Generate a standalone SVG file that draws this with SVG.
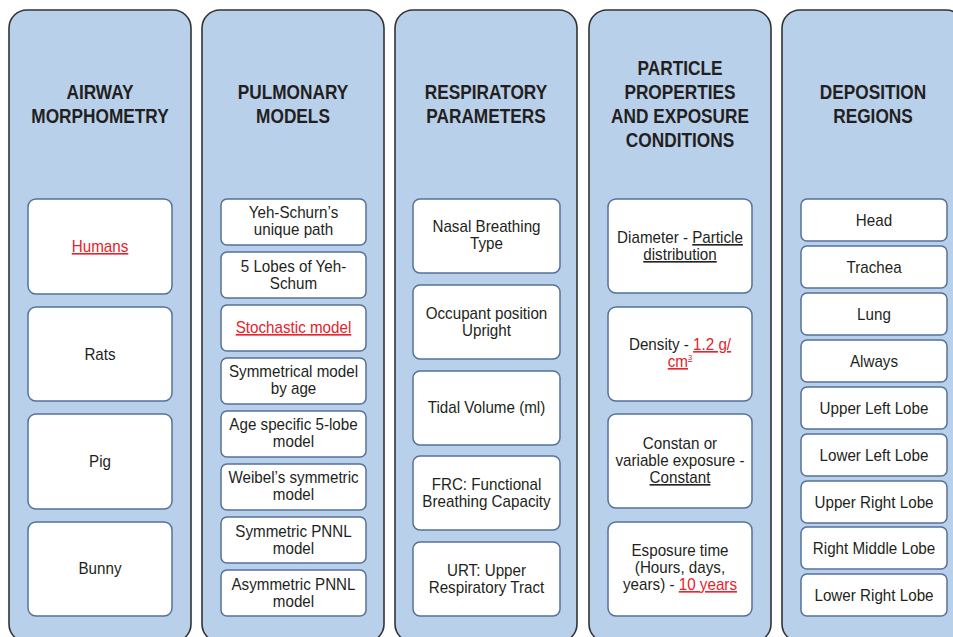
<svg xmlns="http://www.w3.org/2000/svg" width="953" height="637" viewBox="0 0 953 637">
  <style>
    .col { fill: #b9d0ea; stroke: #333333; stroke-width: 1.6; }
    .box { fill: #ffffff; stroke: #56709c; stroke-width: 1.5; }
    text { font-family: "Liberation Sans", Arial, sans-serif; fill: #231f20; text-anchor: middle; }
    .h { font-size: 19.5px; font-weight: bold; }
    .t { font-size: 16px; }
    .r { fill: #e8212b; text-decoration: underline; }
    .u { text-decoration: underline; }
  </style>
  <rect width="953" height="637" fill="#ffffff"/>

  <!-- Column backgrounds and headings -->
  <g id="col-airway">
    <rect class="col" x="9" y="10" width="182" height="632" rx="18"/>
    <g transform="translate(100 0) scale(0.885 1)">
      <text class="h" y="99">AIRWAY</text>
      <text class="h" y="123">MORPHOMETRY</text>
    </g>
  </g>
  <g id="col-pulmonary">
    <rect class="col" x="202" y="10" width="182" height="632" rx="18"/>
    <g transform="translate(293 0) scale(0.885 1)">
      <text class="h" y="99">PULMONARY</text>
      <text class="h" y="123">MODELS</text>
    </g>
  </g>
  <g id="col-respiratory">
    <rect class="col" x="395" y="10" width="182" height="632" rx="18"/>
    <g transform="translate(486 0) scale(0.885 1)">
      <text class="h" y="99">RESPIRATORY</text>
      <text class="h" y="123">PARAMETERS</text>
    </g>
  </g>
  <g id="col-particle">
    <rect class="col" x="589" y="10" width="182" height="632" rx="18"/>
    <g transform="translate(680 0) scale(0.885 1)">
      <text class="h" y="75">PARTICLE</text>
      <text class="h" y="99">PROPERTIES</text>
      <text class="h" y="123">AND EXPOSURE</text>
      <text class="h" y="147">CONDITIONS</text>
    </g>
  </g>
  <g id="col-deposition">
    <rect class="col" x="782" y="10" width="182" height="632" rx="18"/>
    <g transform="translate(873 0) scale(0.885 1)">
      <text class="h" y="99">DEPOSITION</text>
      <text class="h" y="123">REGIONS</text>
    </g>
  </g>

  <!-- Airway morphometry -->
  <g id="n-humans">
    <rect class="box" x="28" y="199" width="144" height="95" rx="8"/>
    <g transform="translate(100 0) scale(0.95 1)"><text class="t r" y="252">Humans</text></g>
  </g>
  <g id="n-rats">
    <rect class="box" x="28" y="307" width="144" height="94" rx="8"/>
    <g transform="translate(100 0) scale(0.95 1)"><text class="t" y="360">Rats</text></g>
  </g>
  <g id="n-pig">
    <rect class="box" x="28" y="414" width="144" height="95" rx="8"/>
    <g transform="translate(100 0) scale(0.95 1)"><text class="t" y="467">Pig</text></g>
  </g>
  <g id="n-bunny">
    <rect class="box" x="28" y="522" width="144" height="94" rx="8"/>
    <g transform="translate(100 0) scale(0.95 1)"><text class="t" y="574">Bunny</text></g>
  </g>

  <!-- Pulmonary models -->
  <g id="n-yeh-schurn">
    <rect class="box" x="221" y="199" width="145" height="46" rx="6"/>
    <g transform="translate(293.5 0) scale(0.95 1)"><text class="t" y="218">Yeh-Schurn’s</text><text class="t" y="235">unique path</text></g>
  </g>
  <g id="n-five-lobes">
    <rect class="box" x="221" y="252" width="145" height="46" rx="6"/>
    <g transform="translate(293.5 0) scale(0.95 1)"><text class="t" y="272">5 Lobes of Yeh-</text><text class="t" y="289">Schum</text></g>
  </g>
  <g id="n-stochastic">
    <rect class="box" x="221" y="305" width="145" height="46" rx="6"/>
    <g transform="translate(293.5 0) scale(0.95 1)"><text class="t r" y="333">Stochastic  model</text></g>
  </g>
  <g id="n-symmetrical-age">
    <rect class="box" x="221" y="358" width="145" height="46" rx="6"/>
    <g transform="translate(293.5 0) scale(0.95 1)"><text class="t" y="377">Symmetrical model</text><text class="t" y="394">by age</text></g>
  </g>
  <g id="n-age-specific">
    <rect class="box" x="221" y="411" width="145" height="46" rx="6"/>
    <g transform="translate(293.5 0) scale(0.95 1)"><text class="t" y="430">Age specific 5-lobe</text><text class="t" y="447">model</text></g>
  </g>
  <g id="n-weibel">
    <rect class="box" x="221" y="464" width="145" height="46" rx="6"/>
    <g transform="translate(293.5 0) scale(0.95 1)"><text class="t" y="483">Weibel’s symmetric</text><text class="t" y="500">model</text></g>
  </g>
  <g id="n-sym-pnnl">
    <rect class="box" x="221" y="517" width="145" height="46" rx="6"/>
    <g transform="translate(293.5 0) scale(0.95 1)"><text class="t" y="537">Symmetric PNNL</text><text class="t" y="554">model</text></g>
  </g>
  <g id="n-asym-pnnl">
    <rect class="box" x="221" y="570" width="145" height="46" rx="6"/>
    <g transform="translate(293.5 0) scale(0.95 1)"><text class="t" y="590">Asymmetric PNNL</text><text class="t" y="607">model</text></g>
  </g>

  <!-- Respiratory parameters -->
  <g id="n-nasal">
    <rect class="box" x="413" y="199" width="147" height="74" rx="7"/>
    <g transform="translate(486.5 0) scale(0.95 1)"><text class="t" y="232">Nasal Breathing</text><text class="t" y="249">Type</text></g>
  </g>
  <g id="n-occupant">
    <rect class="box" x="413" y="285" width="147" height="74" rx="7"/>
    <g transform="translate(486.5 0) scale(0.95 1)"><text class="t" y="319">Occupant position</text><text class="t" y="336">Upright</text></g>
  </g>
  <g id="n-tidal">
    <rect class="box" x="413" y="371" width="147" height="74" rx="7"/>
    <g transform="translate(486.5 0) scale(0.95 1)"><text class="t" y="413">Tidal Volume (ml)</text></g>
  </g>
  <g id="n-frc">
    <rect class="box" x="413" y="456" width="147" height="74" rx="7"/>
    <g transform="translate(486.5 0) scale(0.95 1)"><text class="t" y="490">FRC: Functional</text><text class="t" y="507">Breathing Capacity</text></g>
  </g>
  <g id="n-urt">
    <rect class="box" x="413" y="542" width="147" height="74" rx="7"/>
    <g transform="translate(486.5 0) scale(0.95 1)"><text class="t" y="576">URT: Upper</text><text class="t" y="593">Respiratory Tract</text></g>
  </g>

  <!-- Particle properties and exposure conditions -->
  <g id="n-diameter">
    <rect class="box" x="608" y="199" width="144" height="94" rx="8"/>
    <g transform="translate(680 0) scale(0.95 1)"><text class="t" y="243">Diameter - <tspan class="u">Particle</tspan></text><text class="t u" y="260">distribution</text></g>
  </g>
  <g id="n-density">
    <rect class="box" x="608" y="307" width="144" height="94" rx="8"/>
    <g transform="translate(680 0) scale(0.95 1)"><text class="t" y="350">Density - <tspan class="r">1.2 g/</tspan></text><text class="t r" y="367">cm<tspan font-size="8" dy="-7">3</tspan></text></g>
  </g>
  <g id="n-constant">
    <rect class="box" x="608" y="414" width="144" height="94" rx="8"/>
    <g transform="translate(680 0) scale(0.95 1)"><text class="t" y="449">Constan or</text><text class="t" y="466">variable exposure -</text><text class="t u" y="483">Constant</text></g>
  </g>
  <g id="n-exposure-time">
    <rect class="box" x="608" y="522" width="144" height="94" rx="8"/>
    <g transform="translate(680 0) scale(0.95 1)"><text class="t" y="556">Esposure time</text><text class="t" y="573">(Hours, days,</text><text class="t" y="590">years) - <tspan class="r">10 years</tspan></text></g>
  </g>

  <!-- Deposition regions -->
  <g id="n-head">
    <rect class="box" x="801" y="199" width="146" height="42" rx="6"/>
    <g transform="translate(874 0) scale(0.95 1)"><text class="t" y="226">Head</text></g>
  </g>
  <g id="n-trachea">
    <rect class="box" x="801" y="246" width="146" height="42" rx="6"/>
    <g transform="translate(874 0) scale(0.95 1)"><text class="t" y="273">Trachea</text></g>
  </g>
  <g id="n-lung">
    <rect class="box" x="801" y="293" width="146" height="42" rx="6"/>
    <g transform="translate(874 0) scale(0.95 1)"><text class="t" y="320">Lung</text></g>
  </g>
  <g id="n-always">
    <rect class="box" x="801" y="340" width="146" height="42" rx="6"/>
    <g transform="translate(874 0) scale(0.95 1)"><text class="t" y="367">Always</text></g>
  </g>
  <g id="n-upper-left">
    <rect class="box" x="801" y="387" width="146" height="42" rx="6"/>
    <g transform="translate(874 0) scale(0.95 1)"><text class="t" y="414">Upper Left Lobe</text></g>
  </g>
  <g id="n-lower-left">
    <rect class="box" x="801" y="434" width="146" height="42" rx="6"/>
    <g transform="translate(874 0) scale(0.95 1)"><text class="t" y="461">Lower Left Lobe</text></g>
  </g>
  <g id="n-upper-right">
    <rect class="box" x="801" y="481" width="146" height="42" rx="6"/>
    <g transform="translate(874 0) scale(0.95 1)"><text class="t" y="508">Upper Right Lobe</text></g>
  </g>
  <g id="n-right-middle">
    <rect class="box" x="801" y="527" width="146" height="42" rx="6"/>
    <g transform="translate(874 0) scale(0.95 1)"><text class="t" y="554">Right Middle Lobe</text></g>
  </g>
  <g id="n-lower-right">
    <rect class="box" x="801" y="574" width="146" height="42" rx="6"/>
    <g transform="translate(874 0) scale(0.95 1)"><text class="t" y="601">Lower Right Lobe</text></g>
  </g>

  <!-- No connectors are drawn between these columns -->
  <g id="connectors"/>
</svg>
